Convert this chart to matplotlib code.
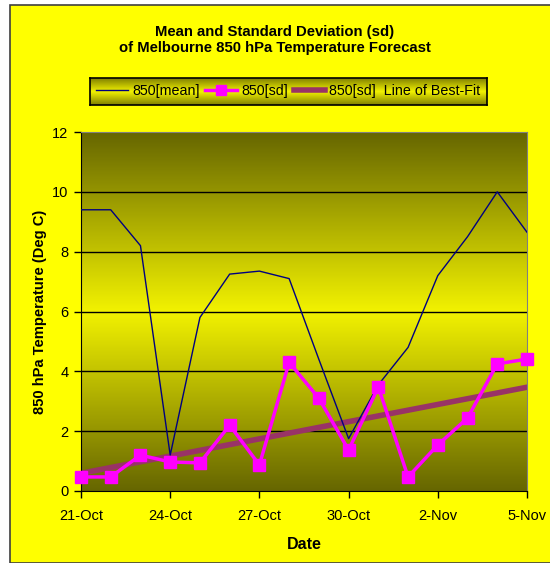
import numpy as np
import matplotlib
matplotlib.use('Agg')
import matplotlib.pyplot as plt
from matplotlib.colors import LinearSegmentedColormap
from matplotlib.patches import Rectangle

plt.rcParams['font.family'] = ['Liberation Sans', 'DejaVu Sans']

# Data: daily forecasts, 21-Oct to 5-Nov
dates = ['21-Oct', '22-Oct', '23-Oct', '24-Oct', '25-Oct', '26-Oct', '27-Oct', '28-Oct',
         '29-Oct', '30-Oct', '31-Oct', '1-Nov', '2-Nov', '3-Nov', '4-Nov', '5-Nov']
mean_850 = [9.4, 9.4, 8.2, 1.2, 5.8, 7.25, 7.35, 7.1, 4.4, 1.75, 3.55, 4.8, 7.2, 8.5, 10.0, 8.65]
sd_850 = [0.47, 0.47, 1.2, 0.97, 0.94, 2.2, 0.87, 4.3, 3.1, 1.37, 3.48, 0.47, 1.54, 2.44, 4.25, 4.41]
tick_days = [0, 3, 6, 9, 12, 15]

x = np.arange(len(dates))
slope, intercept = np.polyfit(x, sd_850, 1)
best_fit = slope * x + intercept

fig = plt.figure(figsize=(5.5, 5.63), dpi=100)
fig.patch.set_facecolor('white')

# yellow chart area
fig.patches.append(Rectangle((10 / 550, 0), 1, 1 - 5 / 563, transform=fig.transFigure,
                             facecolor='#ffff00', edgecolor='#404040', linewidth=1.2, zorder=-10))

ax = fig.add_axes([81 / 550, 1 - 491 / 563, 446 / 550, 359 / 563])

# olive - yellow - olive background gradient
grad_cmap = LinearSegmentedColormap.from_list('olive', ['#666600', '#f2f200', '#666600'])
grad = np.linspace(0, 1, 256).reshape(-1, 1)
ax.imshow(grad, cmap=grad_cmap, aspect='auto', extent=[0, 15, 0, 12], origin='lower', zorder=0)

for yv in [2, 4, 6, 8, 10]:
    ax.axhline(yv, color='black', linewidth=1, zorder=1)

l1, = ax.plot(x, mean_850, color='#000080', linewidth=1, zorder=3, label='850[mean]')
l2, = ax.plot(x, sd_850, color='#ff00ff', linewidth=2.5, marker='s', markersize=8,
              zorder=4, label='850[sd]', clip_on=False)
l3, = ax.plot(x, best_fit, color='#993366', linewidth=4, zorder=2,
              label='850[sd]  Line of Best-Fit')

ax.set_xlim(0, 15)
ax.set_ylim(0, 12)
ax.set_xticks(tick_days)
ax.set_xticklabels([dates[i] for i in tick_days])
ax.set_yticks(range(0, 13, 2))
ax.tick_params(direction='out', length=5, width=1, labelsize=10.5)
ax.tick_params(axis='x', pad=8)
ax.tick_params(axis='y', pad=4)
for side in ['top', 'right']:
    ax.spines[side].set_color('#808080')
for side in ['left', 'bottom']:
    ax.spines[side].set_color('black')

ax.set_xlabel('Date', fontsize=11.5, fontweight='bold', labelpad=10)
ax.set_ylabel('850 hPa Temperature (Deg C)', fontsize=10.6, fontweight='bold', labelpad=4)

fig.text(0.5, 1 - 40 / 563, 'Mean and Standard Deviation (sd)\nof Melbourne 850 hPa Temperature Forecast',
         ha='center', va='center', fontsize=10.7, fontweight='bold', linespacing=1.25)

# legend box with its own gradient
lax = fig.add_axes([90 / 550, 1 - 105 / 563, 397 / 550, 27 / 563])
lax.imshow(grad, cmap=LinearSegmentedColormap.from_list('leg', ['#808000', '#f2f200', '#808000']),
           aspect='auto', extent=[0, 1, 0, 1])
lax.set_xticks([])
lax.set_yticks([])
for s in lax.spines.values():
    s.set_color('black')
    s.set_linewidth(1.2)
lax.legend(handles=[l1, l2, l3], loc='center', ncol=3, frameon=False, fontsize=10.3,
           handlelength=2.2, handletextpad=0.3, columnspacing=0.4, borderpad=0,
           markerscale=0.9)

fig.savefig('out.png', dpi=100)
